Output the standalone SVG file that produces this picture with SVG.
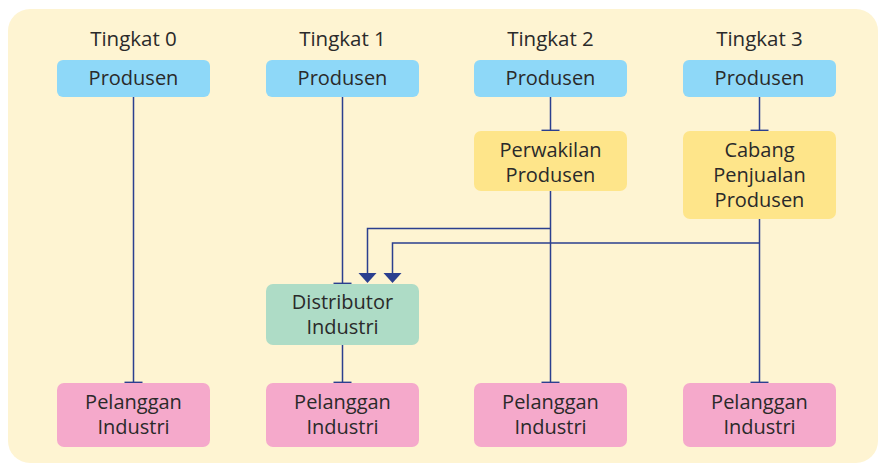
<svg xmlns="http://www.w3.org/2000/svg" width="886" height="465" viewBox="0 0 886 465">
  <defs>
    <style>
      .lbl { font-family: "Open Sans", "Noto Sans", "Liberation Sans", sans-serif; font-size: 20px; fill: #2a2a2a; text-anchor: middle; }
      .head { font-size: 20.5px; }
      .prod { fill: #8ed8f8; }
      .mid { fill: #fee58a; }
      .dist { fill: #aedcc6; }
      .cust { fill: #f5a9cb; }
      .ln { fill: none; stroke: #2b3f8f; stroke-width: 1.5; }
      .tee { stroke-width: 1.8; }
      .head-arrow { fill: #2b3f8f; stroke: none; }
    </style>
  </defs>

  <!-- panel -->
  <rect x="8" y="9" width="870" height="454" rx="22" fill="#fef4d2"/>

  <!-- level headings -->
  <g id="headings">
    <text class="lbl head" x="133.5" y="46">Tingkat 0</text>
    <text class="lbl head" x="342.5" y="46">Tingkat 1</text>
    <text class="lbl head" x="550.5" y="46">Tingkat 2</text>
    <text class="lbl head" x="759.5" y="46">Tingkat 3</text>
  </g>

  <!-- connectors -->
  <g id="connectors" class="ln">
    <path d="M133.5,97 V382"/>
    <path d="M342.5,97 V283"/>
    <path d="M342.5,345 V382"/>
    <path d="M550.5,97 V130"/>
    <path d="M550.5,191 V382"/>
    <path d="M759.5,97 V130"/>
    <path d="M759.5,219 V382"/>
    <path d="M550.5,228.5 H367.5 V274"/>
    <path d="M759.5,243 H392.5 V274"/>
    <!-- tee ends -->
    <g class="tee">
      <path d="M124.5,382.5 H142.5"/>
      <path d="M333.5,283.5 H351.5"/>
      <path d="M333.5,382.5 H351.5"/>
      <path d="M541.5,130.5 H559.5"/>
      <path d="M541.5,382.5 H559.5"/>
      <path d="M750.5,130.5 H768.5"/>
      <path d="M750.5,382.5 H768.5"/>
    </g>
    <!-- arrowheads into the distributor -->
    <path class="head-arrow" d="M358.5,273 H376.5 L367.5,283 Z"/>
    <path class="head-arrow" d="M383.5,273 H401.5 L392.5,283 Z"/>
  </g>

  <!-- level 0 -->
  <g id="produsen0">
    <rect class="prod" x="57" y="60" width="153" height="37" rx="6"/>
    <text class="lbl" x="133.5" y="85">Produsen</text>
  </g>
  <g id="pelanggan0">
    <rect class="cust" x="57" y="383" width="153" height="64" rx="7"/>
    <text class="lbl" x="133.5" y="409">Pelanggan</text>
    <text class="lbl" x="133.5" y="434">Industri</text>
  </g>

  <!-- level 1 -->
  <g id="produsen1">
    <rect class="prod" x="266" y="60" width="153" height="37" rx="6"/>
    <text class="lbl" x="342.5" y="85">Produsen</text>
  </g>
  <g id="distributor1">
    <rect class="dist" x="266" y="284" width="153" height="61" rx="7"/>
    <text class="lbl" x="342.5" y="309">Distributor</text>
    <text class="lbl" x="342.5" y="334">Industri</text>
  </g>
  <g id="pelanggan1">
    <rect class="cust" x="266" y="383" width="153" height="64" rx="7"/>
    <text class="lbl" x="342.5" y="409">Pelanggan</text>
    <text class="lbl" x="342.5" y="434">Industri</text>
  </g>

  <!-- level 2 -->
  <g id="produsen2">
    <rect class="prod" x="474" y="60" width="153" height="37" rx="6"/>
    <text class="lbl" x="550.5" y="85">Produsen</text>
  </g>
  <g id="perwakilan2">
    <rect class="mid" x="474" y="131" width="153" height="60" rx="7"/>
    <text class="lbl" x="550.5" y="157">Perwakilan</text>
    <text class="lbl" x="550.5" y="182">Produsen</text>
  </g>
  <g id="pelanggan2">
    <rect class="cust" x="474" y="383" width="153" height="64" rx="7"/>
    <text class="lbl" x="550.5" y="409">Pelanggan</text>
    <text class="lbl" x="550.5" y="434">Industri</text>
  </g>

  <!-- level 3 -->
  <g id="produsen3">
    <rect class="prod" x="683" y="60" width="153" height="37" rx="6"/>
    <text class="lbl" x="759.5" y="85">Produsen</text>
  </g>
  <g id="cabang3">
    <rect class="mid" x="683" y="131" width="153" height="88" rx="7"/>
    <text class="lbl" x="759.5" y="157">Cabang</text>
    <text class="lbl" x="759.5" y="182">Penjualan</text>
    <text class="lbl" x="759.5" y="207">Produsen</text>
  </g>
  <g id="pelanggan3">
    <rect class="cust" x="683" y="383" width="153" height="64" rx="7"/>
    <text class="lbl" x="759.5" y="409">Pelanggan</text>
    <text class="lbl" x="759.5" y="434">Industri</text>
  </g>
</svg>
